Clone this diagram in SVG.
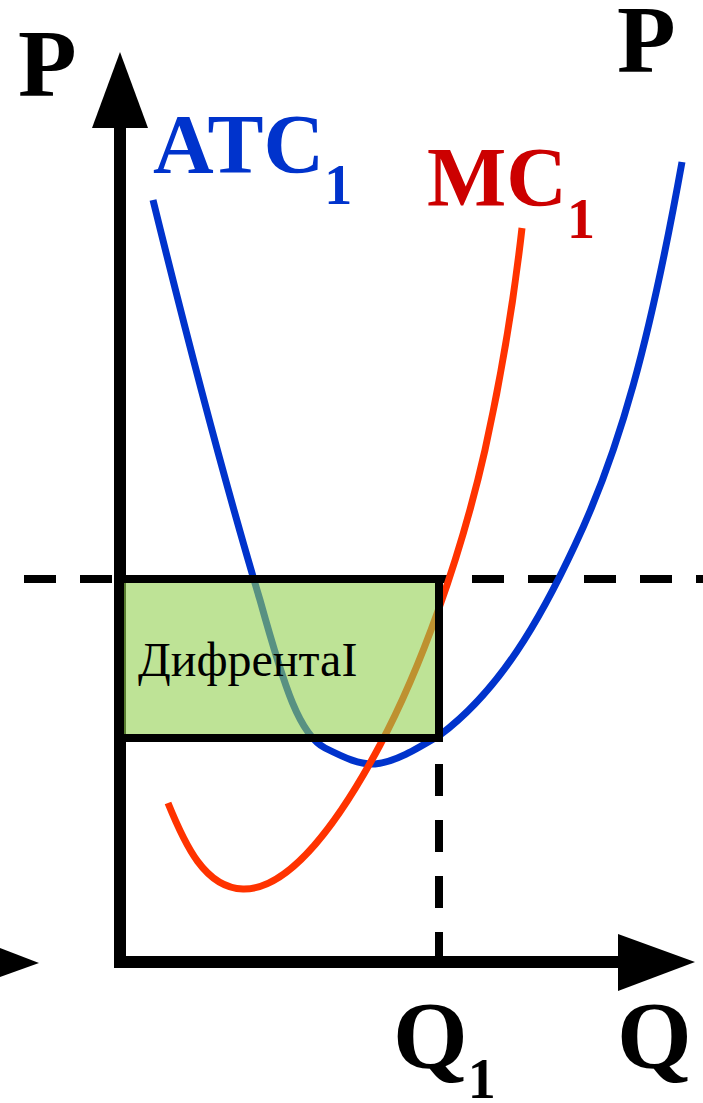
<svg xmlns="http://www.w3.org/2000/svg" width="703" height="1103" viewBox="0 0 703 1103">
<style>
.lbl{font-family:"Liberation Serif","Times New Roman",serif;font-weight:bold}
.axis{stroke:#000;stroke-width:12;fill:none}
.dash{stroke:#000;stroke-width:8;stroke-dasharray:32 24;fill:none}
.curve{fill:none;stroke-width:7}
</style>
<rect width="703" height="1103" fill="#fff"/>
<g id="connectors">
<path class="dash" d="M24,579 H703"/>
<path class="dash" d="M439,964 V738"/>
</g>
<g id="atc1-curve">
<path class="curve" stroke="#0033cc" d="M153,200 C190,350 230,500 260,600 C285,690 300,735 325,748 C345,758 360,765 375,764 C395,762 415,750 440,735 C500,690 540,620 575,545 C620,450 650,340 682,162"/>
</g>
<g id="mc1-curve">
<path class="curve" stroke="#ff3300" d="M168,803 C185,845 205,888 243,889 C290,890 340,820 380,745 C420,670 460,560 485,450 C505,360 515,290 522,228"/>
</g>
<g id="axes">
<path class="axis" d="M120,963 V125"/>
<polygon points="120,52 92,128 148,128" fill="#000"/>
<path class="axis" d="M114,962 H622"/>
<polygon points="695,962 618,934 618,991" fill="#000"/>
<polygon points="39,963 0,948 0,977" fill="#000"/>
</g>
<g id="profit-rect">
<rect x="120" y="579" width="319" height="159" fill="#92d050" fill-opacity="0.6" stroke="#000" stroke-width="8"/>
<text x="138" y="676" font-family="'Liberation Serif','Times New Roman',serif" font-size="48" fill="#000">ДифрентаI</text>
</g>
<g id="labels">
<text class="lbl" x="18" y="96" font-size="96" fill="#000">P</text>
<text class="lbl" x="617" y="72" font-size="96" fill="#000">P</text>
<text class="lbl" fill="#0033cc" x="153" y="173" font-size="84">ATC<tspan font-size="56" dy="31">1</tspan></text>
<text class="lbl" fill="#cc0000" x="427" y="206" font-size="84">MC<tspan font-size="56" dy="32">1</tspan></text>
<text class="lbl" x="393" y="1068" font-size="96" fill="#000">Q<tspan font-size="56" dy="30">1</tspan></text>
<text class="lbl" x="617" y="1068" font-size="96" fill="#000">Q</text>
</g>
</svg>
